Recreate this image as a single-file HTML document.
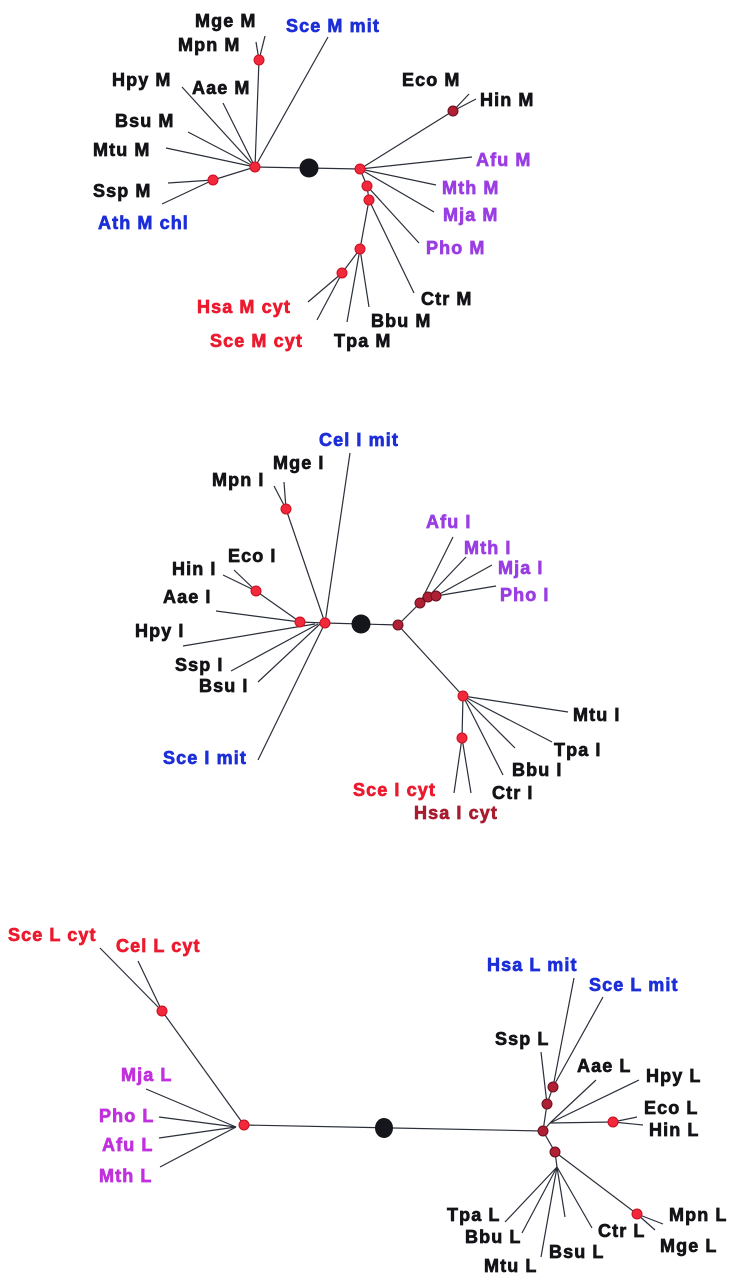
<!DOCTYPE html>
<html><head><meta charset="utf-8"><style>
html,body{margin:0;padding:0;background:#fff}
svg{display:block}
text{font-family:"Liberation Sans",sans-serif;font-weight:bold;font-size:18px;letter-spacing:1.1px;stroke-width:0.7px}
.k{fill:#141418;stroke:#141418}.b{fill:#1c2ed8;stroke:#1c2ed8}.p{fill:#9a3ee4;stroke:#9a3ee4}.m{fill:#c030dc;stroke:#c030dc}.r{fill:#ec1a2e;stroke:#ec1a2e}.d{fill:#a81c30;stroke:#a81c30}
line{stroke:#2a2f3a;stroke-width:1.2}
.n{fill:#f2283c;stroke:#c8101e;stroke-width:1}
.nd{fill:#b02034;stroke:#6a1020;stroke-width:1}
</style></head><body>
<svg width="733" height="1280" viewBox="0 0 733 1280" xmlns="http://www.w3.org/2000/svg">
<!-- TOP TREE -->
<g>
<line x1="255" y1="167" x2="360" y2="169"/>
<line x1="255" y1="167" x2="259" y2="60"/>
<line x1="259" y1="60" x2="256" y2="42"/>
<line x1="259" y1="60" x2="265" y2="36"/>
<line x1="255" y1="167" x2="328" y2="37"/>
<line x1="255" y1="167" x2="223" y2="103"/>
<line x1="255" y1="167" x2="182" y2="87"/>
<line x1="255" y1="167" x2="188" y2="132"/>
<line x1="255" y1="167" x2="166" y2="148"/>
<line x1="255" y1="167" x2="213" y2="180"/>
<line x1="213" y1="180" x2="168" y2="183"/>
<line x1="213" y1="180" x2="162" y2="204"/>
<line x1="360" y1="169" x2="453" y2="111"/>
<line x1="453" y1="111" x2="469" y2="94"/>
<line x1="453" y1="111" x2="476" y2="99"/>
<line x1="360" y1="169" x2="472" y2="157"/>
<line x1="360" y1="169" x2="436" y2="185"/>
<line x1="360" y1="169" x2="434" y2="212"/>
<line x1="360" y1="169" x2="367" y2="186"/>
<line x1="367" y1="186" x2="419" y2="243"/>
<line x1="367" y1="186" x2="369" y2="200"/>
<line x1="369" y1="200" x2="414" y2="293"/>
<line x1="369" y1="200" x2="360" y2="249"/>
<line x1="360" y1="249" x2="369" y2="307"/>
<line x1="360" y1="249" x2="347" y2="322"/>
<line x1="360" y1="249" x2="342" y2="273"/>
<line x1="342" y1="273" x2="308" y2="302"/>
<line x1="342" y1="273" x2="317" y2="320"/>
<circle cx="309" cy="168" r="9.5" fill="#15151c"/>
<circle class="n" cx="255" cy="167" r="5"/>
<circle class="n" cx="259" cy="60" r="5"/>
<circle class="n" cx="213" cy="180" r="5"/>
<circle class="n" cx="360" cy="169" r="5"/>
<circle class="nd" cx="453" cy="111" r="5"/>
<circle class="n" cx="367" cy="186" r="5"/>
<circle class="n" cx="369" cy="200" r="5"/>
<circle class="n" cx="360" cy="249" r="5"/>
<circle class="n" cx="342" cy="273" r="5"/>
<text class="k" x="195" y="27">Mge M</text>
<text class="k" x="178" y="51">Mpn M</text>
<text class="b" x="286" y="32">Sce M mit</text>
<text class="k" x="112" y="86">Hpy M</text>
<text class="k" x="192" y="94">Aae M</text>
<text class="k" x="115" y="127">Bsu M</text>
<text class="k" x="93" y="156">Mtu M</text>
<text class="k" x="93" y="197">Ssp M</text>
<text class="b" x="98" y="229">Ath M chl</text>
<text class="k" x="402" y="86">Eco M</text>
<text class="k" x="480" y="106">Hin M</text>
<text class="p" x="476" y="166">Afu M</text>
<text class="p" x="442" y="194">Mth M</text>
<text class="p" x="443" y="221">Mja M</text>
<text class="p" x="426" y="254">Pho M</text>
<text class="k" x="421" y="305">Ctr M</text>
<text class="k" x="371" y="327">Bbu M</text>
<text class="k" x="334" y="347">Tpa M</text>
<text class="r" x="197" y="313">Hsa M cyt</text>
<text class="r" x="210" y="347">Sce M cyt</text>
</g>
<!-- MIDDLE TREE -->
<g>
<line x1="325" y1="623" x2="398" y2="625"/>
<line x1="325" y1="623" x2="286" y2="509"/>
<line x1="286" y1="509" x2="274" y2="486"/>
<line x1="286" y1="509" x2="284" y2="482"/>
<line x1="325" y1="623" x2="350" y2="453"/>
<line x1="300" y1="622" x2="325" y2="623"/>
<line x1="300" y1="622" x2="256" y2="591"/>
<line x1="256" y1="591" x2="223" y2="575"/>
<line x1="256" y1="591" x2="234" y2="570"/>
<line x1="300" y1="622" x2="216" y2="611"/>
<line x1="315" y1="624" x2="183" y2="646"/>
<line x1="318" y1="624" x2="231" y2="671"/>
<line x1="320" y1="624" x2="258" y2="682"/>
<line x1="325" y1="623" x2="258" y2="760"/>
<line x1="398" y1="625" x2="420" y2="603"/>
<line x1="420" y1="603" x2="453" y2="537"/>
<line x1="428" y1="597" x2="466" y2="557"/>
<line x1="436" y1="596" x2="492" y2="565"/>
<line x1="436" y1="596" x2="496" y2="586"/>
<line x1="398" y1="625" x2="463" y2="696"/>
<line x1="463" y1="696" x2="568" y2="712"/>
<line x1="463" y1="696" x2="552" y2="742"/>
<line x1="463" y1="696" x2="515" y2="748"/>
<line x1="463" y1="696" x2="503" y2="775"/>
<line x1="463" y1="696" x2="462" y2="738"/>
<line x1="462" y1="738" x2="454" y2="793"/>
<line x1="462" y1="738" x2="471" y2="793"/>
<circle cx="361" cy="624" r="9.5" fill="#15151c"/>
<circle class="n" cx="325" cy="623" r="5"/>
<circle class="n" cx="300" cy="622" r="5"/>
<circle class="n" cx="286" cy="509" r="5"/>
<circle class="n" cx="256" cy="591" r="5"/>
<circle class="nd" cx="398" cy="625" r="5"/>
<circle class="nd" cx="420" cy="603" r="5"/>
<circle class="nd" cx="428" cy="597" r="5"/>
<circle class="nd" cx="436" cy="596" r="5"/>
<circle class="n" cx="463" cy="696" r="5"/>
<circle class="n" cx="462" cy="738" r="5"/>
<text class="b" x="319" y="446">Cel I mit</text>
<text class="k" x="273" y="469">Mge I</text>
<text class="k" x="212" y="486">Mpn I</text>
<text class="k" x="228" y="562">Eco I</text>
<text class="k" x="172" y="575">Hin I</text>
<text class="k" x="163" y="603">Aae I</text>
<text class="k" x="135" y="637">Hpy I</text>
<text class="k" x="175" y="671">Ssp I</text>
<text class="k" x="199" y="692">Bsu I</text>
<text class="b" x="163" y="764">Sce I mit</text>
<text class="p" x="426" y="528">Afu I</text>
<text class="p" x="464" y="554">Mth I</text>
<text class="p" x="498" y="574">Mja I</text>
<text class="p" x="500" y="601">Pho I</text>
<text class="k" x="573" y="721">Mtu I</text>
<text class="k" x="554" y="756">Tpa I</text>
<text class="k" x="512" y="776">Bbu I</text>
<text class="k" x="492" y="799">Ctr I</text>
<text class="r" x="353" y="796">Sce I cyt</text>
<text class="d" x="414" y="819">Hsa I cyt</text>
</g>
<!-- BOTTOM TREE -->
<g>
<line x1="244" y1="1125" x2="543" y2="1131"/>
<line x1="244" y1="1125" x2="162" y2="1011"/>
<line x1="162" y1="1011" x2="100" y2="948"/>
<line x1="162" y1="1011" x2="138" y2="961"/>
<line x1="236" y1="1127" x2="146" y2="1089"/>
<line x1="236" y1="1127" x2="159" y2="1117"/>
<line x1="236" y1="1127" x2="159" y2="1138"/>
<line x1="236" y1="1127" x2="160" y2="1167"/>
<line x1="543" y1="1131" x2="547" y2="1104"/>
<line x1="547" y1="1104" x2="553" y2="1087"/>
<line x1="553" y1="1087" x2="574" y2="978"/>
<line x1="553" y1="1087" x2="603" y2="997"/>
<line x1="547" y1="1104" x2="541" y2="1052"/>
<line x1="543" y1="1131" x2="550" y2="1123"/>
<line x1="550" y1="1123" x2="596" y2="1080"/>
<line x1="550" y1="1123" x2="639" y2="1080"/>
<line x1="550" y1="1123" x2="613" y2="1122"/>
<line x1="613" y1="1122" x2="637" y2="1117"/>
<line x1="613" y1="1122" x2="643" y2="1125"/>
<line x1="543" y1="1131" x2="555" y2="1152"/>
<line x1="555" y1="1152" x2="557" y2="1167"/>
<line x1="557" y1="1167" x2="505" y2="1222"/>
<line x1="557" y1="1167" x2="522" y2="1233"/>
<line x1="557" y1="1167" x2="541" y2="1257"/>
<line x1="557" y1="1167" x2="565" y2="1217"/>
<line x1="557" y1="1167" x2="592" y2="1228"/>
<line x1="555" y1="1152" x2="637" y2="1214"/>
<line x1="637" y1="1214" x2="663" y2="1224"/>
<line x1="637" y1="1214" x2="655" y2="1230"/>
<ellipse cx="384" cy="1128" rx="9" ry="10" fill="#15151c"/>
<circle class="n" cx="244" cy="1125" r="5"/>
<circle class="n" cx="162" cy="1011" r="5"/>
<circle class="nd" cx="543" cy="1131" r="5"/>
<circle class="nd" cx="547" cy="1104" r="5"/>
<circle class="nd" cx="553" cy="1087" r="5"/>
<circle class="nd" cx="555" cy="1152" r="5"/>
<circle class="n" cx="613" cy="1122" r="5"/>
<circle class="n" cx="637" cy="1214" r="5"/>
<text class="r" x="8" y="941">Sce L cyt</text>
<text class="r" x="116" y="952">Cel L cyt</text>
<text class="b" x="487" y="971">Hsa L mit</text>
<text class="b" x="589" y="991">Sce L mit</text>
<text class="k" x="495" y="1045">Ssp L</text>
<text class="k" x="577" y="1072">Aae L</text>
<text class="k" x="646" y="1082">Hpy L</text>
<text class="k" x="644" y="1114">Eco L</text>
<text class="k" x="649" y="1136">Hin L</text>
<text class="m" x="121" y="1081">Mja L</text>
<text class="m" x="99" y="1122">Pho L</text>
<text class="m" x="102" y="1151">Afu L</text>
<text class="m" x="99" y="1182">Mth L</text>
<text class="k" x="447" y="1221">Tpa L</text>
<text class="k" x="465" y="1243">Bbu L</text>
<text class="k" x="484" y="1272">Mtu L</text>
<text class="k" x="549" y="1258">Bsu L</text>
<text class="k" x="598" y="1237">Ctr L</text>
<text class="k" x="669" y="1221">Mpn L</text>
<text class="k" x="660" y="1252">Mge L</text>
</g>
</svg>
</body></html>
